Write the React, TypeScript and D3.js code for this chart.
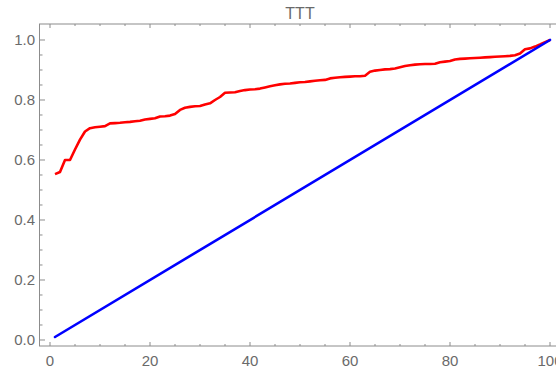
import React from "react";
import * as d3 from "d3";

const title = "TTT";
const redX: number[] = Array.from({ length: 100 }, (_, i) => i + 1);
const redY: number[] = [
  0.553, 0.56, 0.6, 0.6, 0.635, 0.668, 0.695, 0.706, 0.709, 0.711,
  0.713, 0.722, 0.723, 0.724, 0.726, 0.727, 0.729, 0.731, 0.735, 0.737,
  0.739, 0.745, 0.746, 0.748, 0.753, 0.767, 0.774, 0.777, 0.779, 0.78,
  0.785, 0.789, 0.8, 0.81, 0.824, 0.825, 0.826, 0.83, 0.833, 0.835,
  0.836, 0.838, 0.842, 0.846, 0.849, 0.852, 0.854, 0.855, 0.857, 0.859,
  0.86, 0.862, 0.864, 0.866, 0.867, 0.872, 0.874, 0.876, 0.877, 0.878,
  0.879, 0.879, 0.881, 0.894, 0.898, 0.9, 0.902, 0.903, 0.905, 0.909,
  0.913, 0.916, 0.918, 0.919, 0.92, 0.92, 0.921, 0.926, 0.928, 0.93,
  0.935, 0.937, 0.938, 0.939, 0.94, 0.941, 0.942, 0.943, 0.944, 0.945,
  0.946, 0.947, 0.949, 0.955, 0.969, 0.972, 0.978, 0.985, 0.993, 1.0,
];
const blueX: number[] = [1, 100];
const blueY: number[] = [0.01, 1.0];
const xTicks: number[] = [0, 20, 40, 60, 80, 100];
const yTicks: number[] = [0, 0.2, 0.4, 0.6, 0.8, 1.0];

const W = 556;
const H = 370;
const FL = 39.5, FR = 560.5, FT = 24, FB = 346;

export default function App() {
  const x = d3.scaleLinear().domain([-2.1, 102.1]).range([FL, FR]);
  const y = d3.scaleLinear().domain([-0.02, 1.0533]).range([FB, FT]);
  const line = d3
    .line<[number, number]>()
    .x((d) => x(d[0]))
    .y((d) => y(d[1]));
  const red: [number, number][] = redX.map((v, i) => [v, redY[i]]);
  const blue: [number, number][] = blueX.map((v, i) => [v, blueY[i]]);
  const xMinor = d3.range(0, 101, 5).filter((v) => v % 20 !== 0);
  const yMinor = d3.range(0, 21).map((i) => i * 0.05).filter((_, i) => i % 4 !== 0);
  const frameColor = "#8c8c8c";
  const textColor = "#6a6a6a";
  const font = "'Liberation Sans', Arial, sans-serif";
  return (
    <svg
      width={W}
      height={H}
      style={{ position: "absolute", left: 0, top: 0, display: "block", background: "#fff" }}
    >
      <rect x={0} y={0} width={W} height={H} fill="#fff" />
      {/* frame */}
      <rect x={FL} y={FT} width={FR - FL} height={FB - FT} fill="none" stroke={frameColor} strokeWidth={1} />
      {/* x ticks bottom/top */}
      {xTicks.map((t) => (
        <g key={"xt" + t}>
          <line x1={x(t)} x2={x(t)} y1={FB} y2={FB - 4} stroke={frameColor} />
          <line x1={x(t)} x2={x(t)} y1={FT} y2={FT + 4} stroke={frameColor} />
          <text
            x={x(t)}
            y={366}
            textAnchor="middle"
            fontFamily={font}
            fontSize={15}
            fill={textColor}
          >
            {String(t)}
          </text>
        </g>
      ))}
      {xMinor.map((t) => (
        <g key={"xm" + t}>
          <line x1={x(t)} x2={x(t)} y1={FB} y2={FB - 2} stroke={frameColor} />
          <line x1={x(t)} x2={x(t)} y1={FT} y2={FT + 2} stroke={frameColor} />
        </g>
      ))}
      {yTicks.map((t) => (
        <g key={"yt" + t}>
          <line x1={FL} x2={FL + 5.5} y1={y(t)} y2={y(t)} stroke={frameColor} />
          <text
            x={35}
            y={y(t) + 5.4}
            textAnchor="end"
            fontFamily={font}
            fontSize={15}
            fill={textColor}
          >
            {t.toFixed(1)}
          </text>
        </g>
      ))}
      {yMinor.map((t, i) => (
        <line key={"ym" + i} x1={FL} x2={FL + 3} y1={y(t)} y2={y(t)} stroke={frameColor} />
      ))}
      <path d={line(red) || ""} fill="none" stroke="#ff0000" strokeWidth={2.6} strokeLinejoin="round" />
      <path d={line(blue) || ""} fill="none" stroke="#0000ff" strokeWidth={2.6} strokeLinecap="round" />
      <text
        x={(FL + FR) / 2}
        y={18.5}
        textAnchor="middle"
        fontFamily={font}
        fontSize={16}
        fill={textColor}
      >
        {title}
      </text>
    </svg>
  );
}
